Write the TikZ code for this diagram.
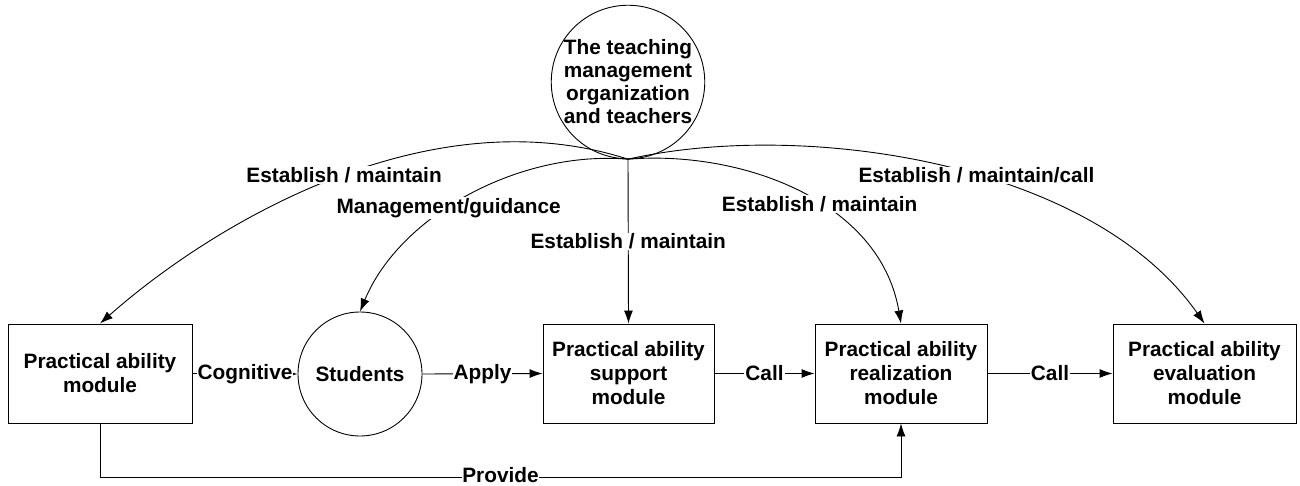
\documentclass[tikz,border=0pt]{standalone}
\usepackage{fontspec}
\setmainfont{Liberation Sans}
\usetikzlibrary{arrows.meta}
\begin{document}
\begin{tikzpicture}[x=1pt,y=-1pt,
  every node/.style={font=\fontsize{20.8}{24}\selectfont\bfseries},
  box/.style={draw, line width=0.9pt, rectangle, minimum height=99pt, align=center, inner sep=2pt},
  circ/.style={draw, line width=0.9pt, circle, inner sep=0pt, align=center},
  conn/.style={line width=0.9pt, -{Latex[length=13pt,width=9pt]}},
  lbl/.style={fill=white, inner sep=1pt}]
\useasboundingbox (0,0) rectangle (1300,486);
\node[circ, minimum size=150pt] (top) at (628,82) {The teaching\\[-1pt]management\\[-1pt]organization\\[-1pt]and teachers};
\node[box, minimum width=184pt] (b1) at (100,373.5) {Practical ability\\module};
\node[circ, minimum size=124pt] (stu) at (360,374) {Students};
\node[box, minimum width=171pt] (b2) at (628.5,373.5) {Practical ability\\support\\module};
\node[box, minimum width=172pt] (b3) at (901,373.5) {Practical ability\\realization\\module};
\node[box, minimum width=183pt] (b4) at (1204.5,373.5) {Practical ability\\evaluation\\module};

\draw[conn] (top.south) .. controls (430,95) and (215,222) .. node[lbl, pos=0.48] {Establish / maintain} (b1.north);
\draw[conn] (top.south) .. controls (520,150) and (400,215) .. node[lbl, pos=0.57] {Management/guidance} (stu.north);
\draw[conn] (top.south) -- node[lbl, pos=0.5] {Establish / maintain} (b2.north);
\draw[conn] (top.south) .. controls (740,150) and (880,200) .. node[lbl, pos=0.57] {Establish / maintain} (b3.north);
\draw[conn] (top.south) .. controls (800,120) and (1090,160) .. node[lbl, pos=0.56] {Establish / maintain/call} (b4.north);

\draw[conn] (b1.east) -- node[lbl] {Cognitive} (stu.west);
\draw[conn] (stu.east) -- node[lbl] {Apply} (b2.west);
\draw[conn] (b2.east) -- node[lbl] {Call} (b3.west);
\draw[conn] (b3.east) -- node[lbl] {Call} (b4.west);
\draw[conn] (b1.south) -- ++(0,54) -| node[lbl, pos=0.25, inner sep=0pt, text depth=0pt, yshift=2.5pt] {Provide} (b3.south);
\end{tikzpicture}
\end{document}
